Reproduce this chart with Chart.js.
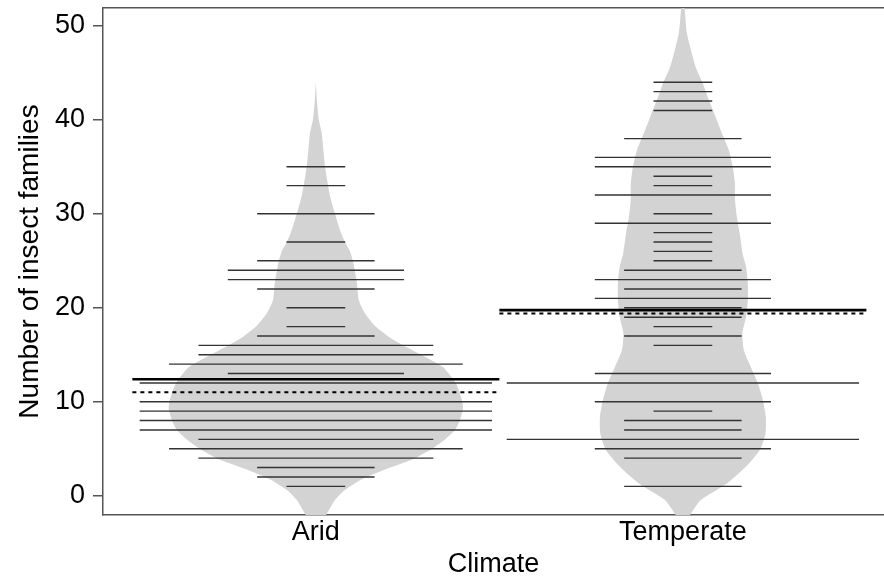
<!DOCTYPE html>
<html>
<head>
<meta charset="utf-8">
<script src="https://cdn.jsdelivr.net/npm/chart.js@4/dist/chart.umd.min.js"></script>
<style>
  html, body { margin: 0; padding: 0; background: #fff; overflow: hidden; }
  #wrap { width: 884px; height: 585px; }
</style>
</head>
<body>
<div id="wrap"><canvas id="beanChart" width="884" height="585"></canvas></div>
<script>
// beanplot: aantal insectenfamilies per klimaat
const categories = ['Arid', 'Temperate'];
const yTicks = [0, 10, 20, 30, 40, 50];

// waarnemingen (waarde + aantal gelijke waarden)
const aridValues = [35, 33, 30, 27, 25, 24, 23, 22, 20, 18, 17, 16, 15, 14, 13, 12, 10, 9, 8, 7, 6, 5, 4, 3, 2, 1];
const aridCounts = [1, 1, 2, 1, 2, 3, 3, 2, 1, 1, 2, 4, 4, 5, 3, 6, 6, 6, 6, 6, 4, 5, 4, 2, 2, 1];
const temperateValues = [44, 43, 42, 41, 38, 36, 35, 34, 33, 32, 30, 29, 28, 27, 26, 25, 24, 23, 22, 21, 20, 19, 18, 17, 16, 13, 12, 10, 9, 8, 7, 6, 5, 4, 1];
const temperateCounts = [1, 1, 1, 1, 2, 3, 3, 1, 1, 3, 1, 3, 1, 1, 1, 1, 2, 3, 2, 3, 2, 2, 1, 2, 1, 3, 6, 3, 1, 2, 2, 6, 3, 2, 2];

// gemiddelde (doorgetrokken) en gestippelde lijn per boon
const beanMeans = [12.4, 19.75];
const dottedLevels = [11.0, 19.4];

// dichtheid (halve breedte van de boon, in x-eenheden)
const aridDensY = [44, 42, 40, 38.6, 37, 35, 32, 30, 28, 27, 26, 25, 24, 22.6, 20.8, 19.4, 18, 16.9, 15.85, 14.8, 13.7, 12, 10.2, 9.3, 8, 7, 5.9, 4.9, 3.8, 2.75, 1.7, 0.6, -0.45, -1.9, -3];
const aridDensW = [0, 0.003, 0.008, 0.016, 0.02, 0.025, 0.038, 0.052, 0.068, 0.079, 0.093, 0.101, 0.106, 0.112, 0.117, 0.134, 0.163, 0.199, 0.245, 0.297, 0.346, 0.381, 0.398, 0.401, 0.392, 0.379, 0.349, 0.313, 0.259, 0.185, 0.123, 0.079, 0.052, 0.030, 0.014];
const temperateDensY = [53, 51.7, 49.2, 47.4, 45.6, 43.9, 42.1, 40.3, 38.6, 36.8, 35, 33.2, 31.5, 29.7, 27.9, 25.7, 24.4, 22.6, 20.8, 19, 17.3, 15.5, 13.7, 12, 10.2, 8.4, 6.6, 4.9, 3.1, 1.3, -0.46, -1.9, -3];
const temperateDensW = [0, 0.005, 0.011, 0.022, 0.035, 0.054, 0.071, 0.089, 0.106, 0.125, 0.136, 0.142, 0.142, 0.147, 0.155, 0.163, 0.172, 0.177, 0.177, 0.172, 0.162, 0.166, 0.185, 0.204, 0.218, 0.226, 0.225, 0.210, 0.172, 0.120, 0.049, 0.022, 0.005];

const LINE_PER_COUNT = 0.08;
const MEAN_HALF = 0.5;
const FONT = "'Liberation Sans', Arial, sans-serif";

function beanShape(center, ys, ws) {
  const left = ys.map((y, i) => ({ x: center - ws[i], y }));
  const right = ys.map((y, i) => ({ x: center + ws[i], y })).reverse();
  return left.concat(right);
}

function hLine(center, y, half, color, width, dash, order) {
  return {
    data: [{ x: center - half, y }, { x: center + half, y }],
    showLine: true,
    borderColor: color,
    borderWidth: width,
    borderDash: dash || [],
    pointRadius: 0,
    fill: false,
    order
  };
}

const datasets = [];
const beans = [
  { vals: aridValues, counts: aridCounts, dy: aridDensY, dw: aridDensW },
  { vals: temperateValues, counts: temperateCounts, dy: temperateDensY, dw: temperateDensW }
];

beans.forEach((b, i) => {
  const c = i + 1;
  datasets.push({
    data: beanShape(c, b.dy, b.dw),
    showLine: true,
    fill: 'shape',
    backgroundColor: '#d3d3d3',
    borderColor: 'rgba(211,211,211,0)',
    borderWidth: 1,
    tension: 0.2,
    pointRadius: 0,
    order: 10
  });
  b.vals.forEach((v, k) => {
    datasets.push(hLine(c, v, b.counts[k] * LINE_PER_COUNT, '#333', 1.4, null, 1));
  });
  datasets.push(hLine(c, beanMeans[i], MEAN_HALF, '#000', 2.6, null, 0));
  datasets.push(hLine(c, dottedLevels[i], MEAN_HALF, '#000', 2, [4, 4], 0));
});

const axisColor = '#555';

new Chart(document.getElementById('beanChart'), {
  type: 'scatter',
  data: { datasets },
  options: {
    responsive: false,
    animation: false,
    events: [],
    layout: { padding: 0 },
    plugins: { legend: { display: false }, tooltip: { enabled: false } },
    scales: {
      x: {
        type: 'linear',
        position: 'bottom',
        min: 0.42,
        max: 2.548,
        afterBuildTicks: s => { s.ticks = categories.map((_, i) => ({ value: i + 1 })); },
        afterFit: s => { s.height = 70; s.paddingLeft = 0; s.paddingRight = 0; },
        ticks: {
          callback: v => categories[v - 1] ?? '',
          color: '#000',
          padding: 1,
          maxRotation: 0,
          font: { family: FONT, size: 27 }
        },
        grid: { drawOnChartArea: false, drawTicks: false },
        border: { display: true, color: axisColor, width: 1.5 },
        title: {
          display: true,
          text: 'Climate',
          color: '#000',
          padding: { top: 0, bottom: 4 },
          font: { family: FONT, size: 27 }
        }
      },
      xTop: {
        type: 'linear',
        position: 'top',
        min: 0.42,
        max: 2.548,
        afterFit: s => { s.height = 8; s.paddingLeft = 0; s.paddingRight = 0; },
        ticks: { display: false },
        grid: { drawOnChartArea: false, drawTicks: false },
        border: { display: true, color: axisColor, width: 1.5 }
      },
      y: {
        type: 'linear',
        min: -2.05,
        max: 51.9,
        afterBuildTicks: s => { s.ticks = yTicks.map(v => ({ value: v })); },
        afterFit: s => { s.width = 103; s.paddingTop = 0; s.paddingBottom = 0; },
        ticks: {
          color: '#000',
          padding: 8,
          font: { family: FONT, size: 27 }
        },
        grid: { drawOnChartArea: false, drawTicks: true, tickLength: 10, color: axisColor, lineWidth: 1.5 },
        border: { display: true, color: axisColor, width: 1.5 },
        title: {
          display: true,
          text: 'Number of insect families',
          color: '#000',
          padding: { top: 13, bottom: 0 },
          font: { family: FONT, size: 28 }
        }
      }
    }
  }
});
</script>
</body>
</html>
